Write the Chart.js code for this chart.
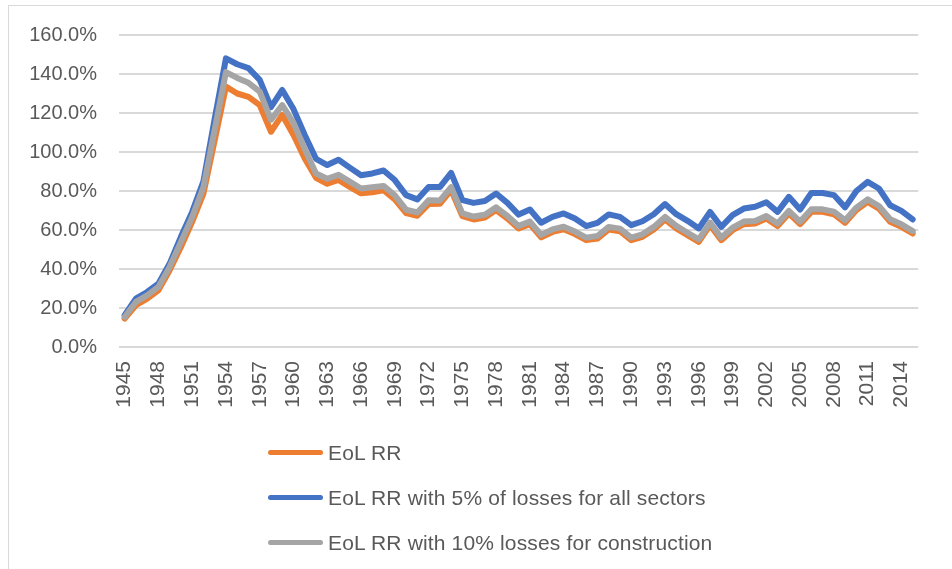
<!DOCTYPE html>
<html>
<head>
<meta charset="utf-8">
<script src="https://cdn.jsdelivr.net/npm/chart.js@4.4.1/dist/chart.umd.min.js"></script>
<style>
  html, body { margin: 0; padding: 0; background: #fff; }
  #wrap { position: relative; width: 952px; height: 569px; overflow: hidden; }
  #frame { position: absolute; left: 8px; top: 5px; width: 990px; height: 620px; border: 1px solid #d9d9d9; box-sizing: border-box; }
  canvas { position: absolute; left: 0; top: 0; }
  #legend { position: absolute; left: 268px; top: 430px; font-family: "Liberation Sans", Arial, sans-serif; font-size: 21px; letter-spacing: 0.15px; color: #595959; }
  .item { display: flex; align-items: center; height: 45px; }
  .swatch { width: 55px; height: 5px; border-radius: 3px; margin-right: 5px; }
</style>
</head>
<body>
<div id="wrap">
  <div id="frame"></div>
  <canvas id="c" width="952" height="569"></canvas>
  <div id="legend"></div>
</div>
<script>
// Years on the category axis
const years = [1945,1946,1947,1948,1949,1950,1951,1952,1953,1954,
  1955,1956,1957,1958,1959,1960,1961,1962,1963,1964,
  1965,1966,1967,1968,1969,1970,1971,1972,1973,1974,
  1975,1976,1977,1978,1979,1980,1981,1982,1983,1984,
  1985,1986,1987,1988,1989,1990,1991,1992,1993,1994,
  1995,1996,1997,1998,1999,2000,2001,2002,2003,2004,
  2005,2006,2007,2008,2009,2010,2011,2012,2013,2014,2015];

// Year labels printed under the axis
const yearTicks = [1945,1948,1951,1954,1957,1960,1963,1966,1969,1972,1975,1978,
  1981,1984,1987,1990,1993,1996,1999,2002,2005,2008,2011,2014];

// End-of-life recycling rate, percent
const eolRR = [14.6,21.4,24.8,29.1,39.4,51.3,64.2,78.7,106,133.5,
  130,128.3,124,110.4,119,108.7,96.7,86.8,83.7,85.7,
  82.1,78.8,79.4,80.4,75.7,68.7,67.3,73.3,73.4,80.5,
  67.1,65.4,66.4,70.2,65.9,60.8,63,56.2,59,60.4,
  57.9,54.8,55.6,60.3,59.4,54.8,56.5,60.3,65.4,60.8,
  57.3,53.9,62.5,54.8,59.9,63,63.3,65.9,62,68.5,
  63,69.3,69.3,68.1,63.7,70.2,74.4,71,64.2,61.6,58.2];

const eolRR5All = [16.3,24.8,28.2,32.5,42.8,56.5,69.3,85,117,148,
  145,143,137,123,131.8,122,108.7,96.5,93.3,96,
  92,88.1,89,90.5,85.6,77.9,75.7,82.1,82,89.3,
  75.3,73.9,74.9,78.7,73.9,67.9,70.5,63.7,66.7,68.5,
  65.9,62,63.7,68,66.7,62.5,64.5,68.1,73.3,68.1,
  64.7,60.8,69.3,61.6,67.6,71,71.9,74.2,69.3,77,
  70.5,79,79,77.9,71.6,80,84.7,81.3,72.7,69.8,65.4];

const eolRR10Constr = [15.4,23.1,26.5,30.8,41.1,53.9,66.7,82,111.5,141,
  138,135.5,131,116.5,124,115,101.5,89,86.3,88.3,
  84.8,81.3,81.9,82.6,77.8,70.4,69,75.2,75.1,82,
  68.5,66.9,67.8,71.6,67.2,62.1,64.3,57.5,60.3,61.7,
  59.2,56.1,56.9,61.6,60.7,56.1,57.8,61.6,66.7,62.1,
  58.6,55.2,63.8,56.1,61.2,64.3,64.6,67.2,63.3,69.8,
  64.3,70.6,70.6,69.4,65,71.5,75.7,72.3,65.5,62.9,59.4];

const seriesNames = ['EoL RR', 'EoL RR with 5% of losses for all sectors', 'EoL RR with 10% losses for construction'];
const seriesColors = ['#ED7D31', '#4472C4', '#A5A5A5'];

const FONT = '"Liberation Sans", Arial, sans-serif';
const TEXT = '#595959';

function lineSet(i, values, order) {
  return {
    label: seriesNames[i],
    data: values,
    borderColor: seriesColors[i],
    backgroundColor: seriesColors[i],
    borderWidth: 6,
    pointRadius: 0,
    tension: 0,
    borderJoinStyle: 'round',
    borderCapStyle: 'round',
    order: order
  };
}

new Chart(document.getElementById('c'), {
  type: 'line',
  data: {
    labels: years,
    datasets: [
      lineSet(0, eolRR, 3),
      lineSet(1, eolRR5All, 2),
      lineSet(2, eolRR10Constr, 1)
    ]
  },
  options: {
    responsive: false,
    animation: false,
    layout: { padding: { top: 35, right: 17, bottom: 147, left: 0 } },
    plugins: { legend: { display: false }, tooltip: { enabled: false } },
    scales: {
      x: {
        offset: true,
        grid: { display: false, drawTicks: false },
        border: { display: false },
        ticks: {
          autoSkip: false,
          maxRotation: 90,
          minRotation: 90,
          padding: 14,
          color: TEXT,
          font: { family: FONT, size: 21 },
          callback: function (v, i) {
            const y = years[i];
            return yearTicks.includes(y) ? String(y) : '';
          }
        },
        afterFit: function (s) { s.height = 75; }
      },
      y: {
        min: 0,
        max: 160,
        grid: { color: '#d9d9d9', lineWidth: 2, drawTicks: false },
        border: { display: false },
        ticks: {
          stepSize: 20,
          padding: 22,
          color: TEXT,
          font: { family: FONT, size: 20 },
          callback: function (v) { return v.toFixed(1) + '%'; }
        },
        afterFit: function (s) { s.width = 119; }
      }
    }
  }
});

// Vertical legend below the plot
const legend = document.getElementById('legend');
seriesNames.forEach(function (name, i) {
  const row = document.createElement('div');
  row.className = 'item';
  const sw = document.createElement('span');
  sw.className = 'swatch';
  sw.style.background = seriesColors[i];
  const tx = document.createElement('span');
  tx.textContent = name;
  row.appendChild(sw);
  row.appendChild(tx);
  legend.appendChild(row);
});
</script>
</body>
</html>
